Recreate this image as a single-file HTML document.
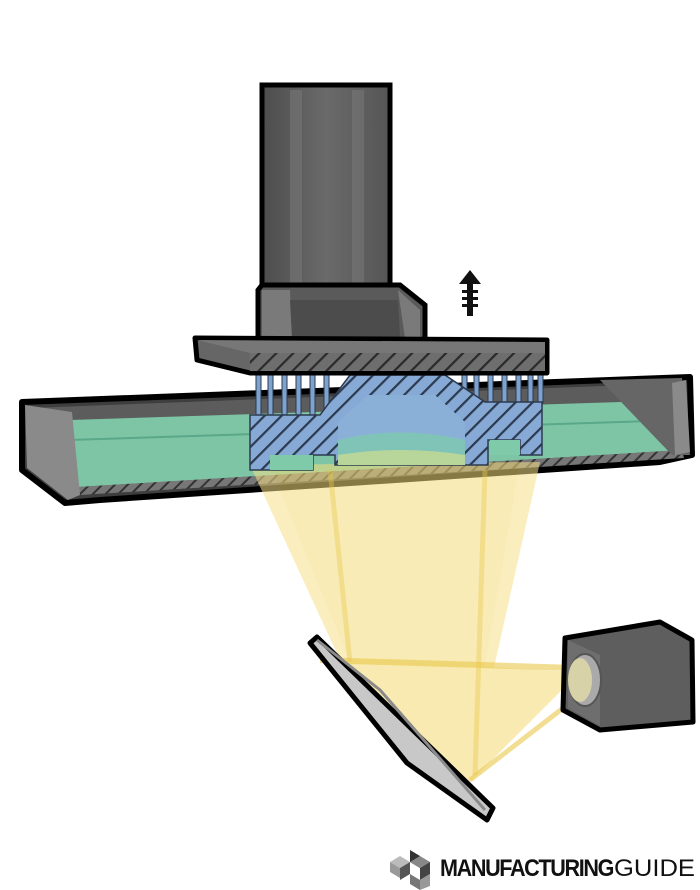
<!DOCTYPE html>
<html><head><meta charset="utf-8"><style>
html,body{margin:0;padding:0;background:#fff;width:700px;height:890px;overflow:hidden}
</style></head><body>
<svg width="700" height="890" viewBox="0 0 700 890" xmlns="http://www.w3.org/2000/svg">
<defs>
<pattern id="hb" width="12" height="12" patternUnits="userSpaceOnUse" patternTransform="rotate(45)">
<rect width="12" height="12" fill="#86a9d6"/><rect width="2.2" height="12" fill="#2c3a4e"/></pattern>
<pattern id="hg" width="12" height="12" patternUnits="userSpaceOnUse" patternTransform="rotate(45)">
<rect width="12" height="12" fill="#6e6e6e"/><rect width="2.2" height="12" fill="#2a2a2a"/></pattern>
<pattern id="hv" width="9" height="9" patternUnits="userSpaceOnUse" patternTransform="rotate(45)">
<rect width="9" height="9" fill="#777"/><rect width="2" height="9" fill="#333"/></pattern>
<linearGradient id="col" x1="0" x2="1"><stop offset="0" stop-color="#4d4d4d"/><stop offset="0.5" stop-color="#6a6a6a"/><stop offset="1" stop-color="#555"/></linearGradient>
</defs>

<!-- column -->
<path d="M262,85 L390,85 L390,300 L262,300 Z" fill="url(#col)" stroke="#000" stroke-width="5"/>
<rect x="290" y="90" width="12" height="200" fill="#777" opacity="0.6"/>
<rect x="352" y="90" width="12" height="200" fill="#777" opacity="0.6"/>
<!-- bracket -->
<path d="M258,290 L262,285 L400,285 L425,305 L425,340 L258,340 Z" fill="#5a5a5a" stroke="#000" stroke-width="5"/>
<path d="M262,290 L290,290 L292,338 L262,338 Z" fill="#7a7a7a"/>
<path d="M290,300 L398,300 L400,337 L292,337 Z" fill="#4c4c4c"/>
<path d="M398,290 L420,310 L420,338 L405,338 Z" fill="#7a7a7a"/>

<!-- vat -->
<path d="M22,402 L690,377 L692,455 L660,462 L100,500 L65,503 L22,470 Z" fill="#3e3e3e" stroke="#000" stroke-width="6" stroke-linejoin="round"/>
<path d="M30,408 L682,383 L682,455 L95,492 L70,496 L30,468 Z" fill="#5c5c5c"/>
<path d="M70,420 L682,400 L682,450 L78,487 Z" fill="#7fcaa9" opacity="0.95"/>
<path d="M70,440 L682,420" stroke="#5aa88a" stroke-width="2"/>
<path d="M78,487 L682,450 L684,458 L80,495 Z" fill="url(#hv)"/>
<path d="M25,405 L72,412 L80,495 L68,500 L27,468 Z" fill="#8a8a8a"/>
<path d="M600,380 L682,378 L690,455 L672,455 Z" fill="#666"/>
<path d="M686,380 L690,452 L675,455 L672,383 Z" fill="#8a8a8a"/>

<!-- light cone -->
<g opacity="0.55">
<path d="M250,465 L540,462 L470,775 L340,660 Z" fill="#f6e08a"/>
<path d="M270,465 L350,662 L465,780 L520,462 Z" fill="#f3d970" opacity="0.6"/>
<path d="M320,658 L580,672 L470,782 Z" fill="#f3d970"/>
</g>
<path d="M320,660 L575,668" stroke="#eac94c" stroke-width="6" opacity="0.6"/>
<path d="M470,780 L580,695" stroke="#eac94c" stroke-width="5" opacity="0.6"/>
<path d="M330,470 L350,662" stroke="#eac94c" stroke-width="5" opacity="0.4"/>
<path d="M485,470 L475,775" stroke="#eac94c" stroke-width="5" opacity="0.4"/>

<!-- supports -->
<g fill="#7ea2cf" stroke="#2c3a4e" stroke-width="1">
<rect x="256" y="370" width="5" height="60"/><rect x="268" y="370" width="5" height="60"/>
<rect x="282" y="370" width="5" height="60"/><rect x="296" y="370" width="5" height="60"/>
<rect x="310" y="370" width="5" height="60"/><rect x="324" y="370" width="5" height="40"/>
<rect x="462" y="368" width="5" height="30"/><rect x="474" y="368" width="5" height="35"/>
<rect x="488" y="368" width="5" height="35"/><rect x="502" y="368" width="5" height="35"/>
<rect x="516" y="368" width="5" height="35"/><rect x="528" y="368" width="5" height="35"/>
<rect x="538" y="368" width="5" height="35"/>
</g>

<!-- printed part -->
<path d="M250,415 L320,415 L350,375 L445,375 L485,402 L542,402 L542,455 L520,455 L520,440 L488,440 L488,465 L335,465 L335,455 L313,455 L313,470 L250,470 Z" fill="url(#hb)" stroke="#2c3a4e" stroke-width="1.5"/>
<path d="M338,465 L338,422 L368,395 L435,395 L465,422 L465,465 Z" fill="#8bb0d8"/>
<path d="M338,440 Q400,425 465,440 L465,465 L338,465 Z" fill="#80c4b8"/>
<path d="M338,455 Q400,445 465,455 L465,465 L338,465 Z" fill="#b8d59a"/>
<rect x="270" y="455" width="43" height="15" fill="#7fcaa9"/>
<rect x="490" y="440" width="30" height="15" fill="#7fcaa9"/>

<!-- build plate -->
<path d="M195,338 L547,340 L547,373 L250,373 L197,360 Z" fill="#666" stroke="#000" stroke-width="5" stroke-linejoin="round"/>
<path d="M250,353 L545,353 L545,371 L250,371 Z" fill="url(#hg)"/>
<path d="M197,340 L545,342 L545,353 L250,353 Z" fill="#777"/>

<!-- arrow -->
<g fill="#111">
<path d="M470,270 L481,284 L459,284 Z"/>
<rect x="467" y="282" width="6" height="34"/>
<rect x="462" y="290" width="16" height="3"/><rect x="462" y="297" width="16" height="3"/><rect x="462" y="304" width="16" height="3"/>
</g>

<!-- mirror -->
<path d="M310,643 L317,637 L493,808 L487,820 L407,763 Z" fill="#c8c8c8" stroke="#000" stroke-width="5" stroke-linejoin="round"/>
<path d="M317,640 L380,690 L485,810" stroke="#8a8a8a" stroke-width="3" fill="none"/>

<!-- projector -->
<path d="M565,638 L660,622 L692,640 L693,722 L600,730 L563,710 Z" fill="#5e5e5e" stroke="#000" stroke-width="5" stroke-linejoin="round"/>
<path d="M568,640 L600,655 L600,726 L568,708 Z" fill="#6e6e6e"/>
<ellipse cx="585" cy="680" rx="16" ry="26" fill="#aaa" stroke="#555" stroke-width="2"/>
<ellipse cx="580" cy="680" rx="12" ry="22" fill="#d8d2a8"/>

<!-- logo -->
<g>
<path d="M410,850 L420,856 L420,868 L410,862 Z" fill="#333"/>
<path d="M400,856 L410,862 L400,868 L390,862 Z" fill="#bbb"/>
<path d="M390,862 L400,868 L400,878 L390,872 Z" fill="#999"/>
<path d="M400,868 L410,862 L410,874 L400,880 Z" fill="#555"/>
<path d="M410,862 L420,868 L430,862 L420,856 Z" fill="#888"/>
<path d="M420,868 L430,862 L430,874 L420,880 Z" fill="#444"/>
<path d="M410,874 L420,880 L420,890 L410,884 Z" fill="#777"/>
<path d="M420,880 L430,874 L430,886 L420,890 Z" fill="#999"/>
</g>
<text x="440" y="876" font-family="Liberation Sans, sans-serif" font-size="24" font-weight="bold" fill="#111" letter-spacing="-1.5" textLength="173" lengthAdjust="spacingAndGlyphs">MANUFACTURING</text>
<text x="614" y="876" font-family="Liberation Sans, sans-serif" font-size="24" fill="#111" textLength="81" lengthAdjust="spacingAndGlyphs">GUIDE</text>
</svg>
</body></html>
